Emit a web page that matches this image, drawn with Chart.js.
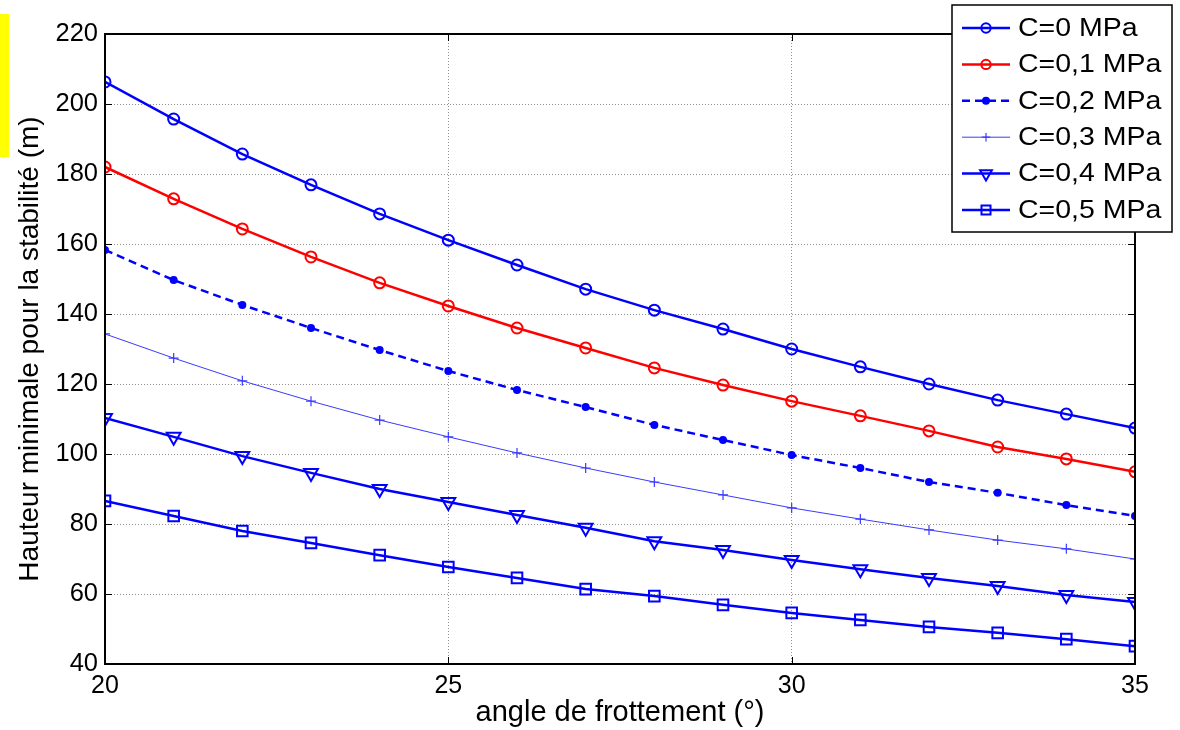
<!DOCTYPE html>
<html>
<head>
<meta charset="utf-8">
<script src="https://cdn.jsdelivr.net/npm/chart.js@4"></script>
<style>
  html, body { margin: 0; padding: 0; background: #fff; }
  #wrap { width: 1180px; height: 730px; position: relative; }
</style>
</head>
<body>
<div id="wrap"><canvas id="hauteurChart" width="1180" height="730"></canvas></div>
<script>
const angles = [20, 21, 22, 23, 24, 25, 26, 27, 28, 29, 30, 31, 32, 33, 34, 35];
const c00 = [206.3, 195.7, 185.7, 176.9, 168.6, 161.1, 154.0, 147.1, 141.1, 135.7, 130.0, 124.9, 120.0, 115.4, 111.4, 107.4];
const c01 = [182.0, 172.9, 164.3, 156.3, 148.9, 142.3, 136.0, 130.3, 124.6, 119.7, 115.1, 110.9, 106.6, 102.0, 98.6, 94.9];
const c02 = [158.3, 149.7, 142.6, 136.0, 129.7, 123.7, 118.3, 113.4, 108.3, 104.0, 99.7, 96.0, 92.0, 88.9, 85.4, 82.3];
const c03 = [134.3, 127.4, 120.9, 115.1, 109.7, 104.9, 100.3, 96.0, 92.0, 88.3, 84.6, 81.4, 78.3, 75.4, 72.9, 70.0];
const c04 = [110.3, 104.9, 99.4, 94.6, 90.0, 86.3, 82.6, 78.9, 75.1, 72.6, 69.7, 67.1, 64.6, 62.3, 59.7, 57.7];
const c05 = [86.6, 82.3, 78.0, 74.6, 71.1, 67.7, 64.6, 61.4, 59.4, 56.9, 54.6, 52.6, 50.6, 48.9, 47.1, 45.1];
const seriesLabels = ["C=0 MPa", "C=0,1 MPa", "C=0,2 MPa", "C=0,3 MPa", "C=0,4 MPa", "C=0,5 MPa"];
const xTicks = [20, 25, 30, 35];
const yTicks = [40, 60, 80, 100, 120, 140, 160, 180, 200, 220];

const FONT = "Arial, 'Liberation Sans', sans-serif";
const toXY = (vals) => vals.map((v, i) => ({ x: angles[i], y: v }));

const styles = [
  { color: "#0000ff", width: 2.5, dash: [], point: "circle", radius: 5.5, fill: "rgba(0,0,0,0)" },
  { color: "#ff0000", width: 2.5, dash: [], point: "circle", radius: 5.5, fill: "rgba(0,0,0,0)" },
  { color: "#0000ff", width: 2.5, dash: [8, 5], point: "circle", radius: 3, fill: "#0000ff" },
  { color: "#3a3aff", width: 1, dash: [], point: "cross", radius: 5, fill: "rgba(0,0,0,0)" },
  { color: "#0000ff", width: 2.5, dash: [], point: "triangle", radius: 8, fill: "rgba(0,0,0,0)", rot: 180 },
  { color: "#0000ff", width: 2.5, dash: [], point: "rect", radius: 7.5, fill: "rgba(0,0,0,0)" },
];
const allSeries = [c00, c01, c02, c03, c04, c05];

const datasets = allSeries.map((vals, k) => ({
  label: seriesLabels[k],
  data: toXY(vals),
  borderColor: styles[k].color,
  borderWidth: styles[k].width,
  borderDash: styles[k].dash,
  pointStyle: styles[k].point,
  pointRadius: styles[k].radius,
  pointRotation: styles[k].rot || 0,
  pointBackgroundColor: styles[k].fill,
  pointBorderColor: styles[k].color,
  pointBorderWidth: k === 3 ? 1.2 : 2,
  tension: 0,
  fill: false,
}));

// box around plot, inward ticks, white background, yellow mark
const framePlugin = {
  id: "frame",
  beforeDraw(chart) {
    const ctx = chart.ctx;
    ctx.save();
    ctx.fillStyle = "#fff";
    ctx.fillRect(0, 0, chart.width, chart.height);
    ctx.fillStyle = "#ffff00";
    ctx.fillRect(0, 14, 9, 143);
    ctx.restore();
  },
  afterDatasetsDraw(chart) {
    const { ctx, chartArea: a, scales } = chart;
    ctx.save();
    ctx.strokeStyle = "#000";
    ctx.lineWidth = 1;
    const t = 7;
    ctx.beginPath();
    xTicks.forEach((v) => {
      const px = Math.round(scales.x.getPixelForValue(v)) + 0.5;
      ctx.moveTo(px, a.bottom); ctx.lineTo(px, a.bottom - t);
      ctx.moveTo(px, a.top); ctx.lineTo(px, a.top + t);
    });
    yTicks.forEach((v) => {
      const py = Math.round(scales.y.getPixelForValue(v)) + 0.5;
      ctx.moveTo(a.left, py); ctx.lineTo(a.left + t, py);
      ctx.moveTo(a.right, py); ctx.lineTo(a.right - t, py);
    });
    ctx.stroke();
    ctx.lineWidth = 2;
    ctx.strokeRect(a.left, a.top, a.right - a.left, a.bottom - a.top);
    ctx.restore();
  },
};

// matlab-like legend box, top right
const legendPlugin = {
  id: "matLegend",
  afterDraw(chart) {
    const ctx = chart.ctx;
    const x0 = 952, y0 = 5, w = 220, h = 227;
    ctx.save();
    ctx.fillStyle = "#fff";
    ctx.fillRect(x0, y0, w, h);
    ctx.strokeStyle = "#000";
    ctx.lineWidth = 1.5;
    ctx.strokeRect(x0, y0, w, h);
    ctx.font = "25px " + FONT;
    ctx.textBaseline = "middle";
    seriesLabels.forEach((lab, k) => {
      const s = styles[k];
      const y = 28 + k * 36.4;
      ctx.strokeStyle = s.color;
      ctx.lineWidth = s.width;
      ctx.setLineDash(s.dash);
      ctx.beginPath();
      ctx.moveTo(962, y);
      ctx.lineTo(1010, y);
      ctx.stroke();
      ctx.setLineDash([]);
      ctx.lineWidth = k === 3 ? 1.2 : 2;
      ctx.fillStyle = s.fill;
      Chart.helpers.drawPoint(ctx, {
        pointStyle: s.point, radius: k === 2 ? s.radius : s.radius * 0.85,
        rotation: s.rot || 0, borderWidth: k === 3 ? 1.2 : 2,
      }, 986, y);
      ctx.fillStyle = "#000";
      ctx.save();
      ctx.translate(1018, y + 1);
      ctx.scale(1.14, 1);
      ctx.fillText(lab, 0, 0);
      ctx.restore();
    });
    ctx.restore();
  },
};

const grid = {
  display: true,
  color: "#909090",
  lineWidth: 1,
  drawTicks: false,
};

new Chart(document.getElementById("hauteurChart").getContext("2d"), {
  type: "line",
  data: { datasets },
  plugins: [framePlugin, legendPlugin],
  options: {
    responsive: false,
    animation: false,
    layout: { padding: { top: 34, right: 45, left: 0, bottom: 0 } },
    plugins: { legend: { display: false }, tooltip: { enabled: false } },
    scales: {
      x: {
        type: "linear",
        min: 20,
        max: 35,
        afterBuildTicks: (s) => { s.ticks = xTicks.map((v) => ({ value: v })); },
        afterFit: (s) => { s.height = 66; },
        grid: grid,
        border: { display: false, dash: [1, 2] },
        ticks: { color: "#000", font: { family: FONT, size: 25 }, padding: 7, maxRotation: 0 },
        title: { display: true, text: "angle de frottement (°)", color: "#000", font: { family: FONT, size: 29 }, padding: { top: 0, bottom: 0 } },
      },
      y: {
        type: "linear",
        min: 40,
        max: 220,
        afterBuildTicks: (s) => { s.ticks = yTicks.map((v) => ({ value: v })); },
        afterFit: (s) => { s.width = 105; },
        grid: grid,
        border: { display: false, dash: [1, 2] },
        ticks: { color: "#000", font: { family: FONT, size: 25.5 }, padding: 7 },
        title: { display: true, text: "Hauteur minimale pour la stabilité (m)", color: "#000", font: { family: FONT, size: 28 }, padding: { top: 13, bottom: 0 } },
      },
    },
  },
});
</script>
</body>
</html>
